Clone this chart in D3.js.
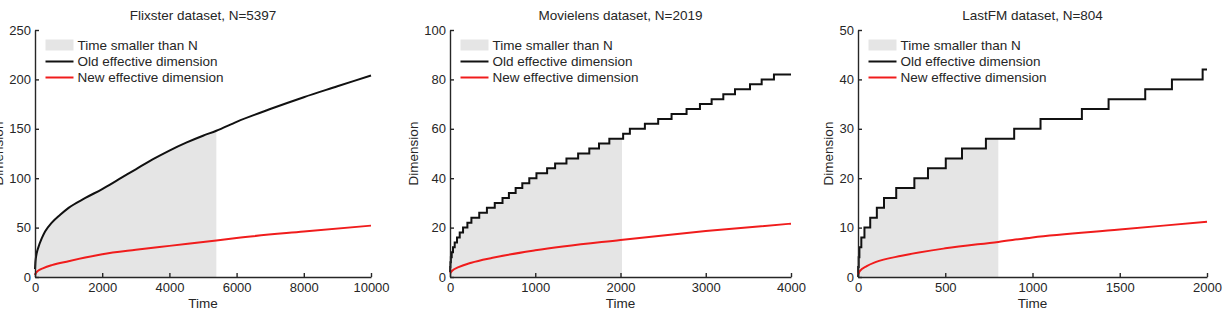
<!DOCTYPE html>
<html>
<head>
<meta charset="utf-8">
<script src="https://cdn.jsdelivr.net/npm/d3@7"></script>
<style>
  body { margin: 0; background: #fff; }
  svg text { font-family: "Liberation Sans", Arial, sans-serif; fill: #262626; }
  .axis path, .axis line { stroke: #262626; stroke-width: 1.4; }
</style>
</head>
<body>
<svg id="chart" width="1228" height="318"></svg>
<script>
// ---- data ----
var titles = ["Flixster dataset, N=5397", "Movielens dataset, N=2019", "LastFM dataset, N=804"];
var datasetN = [5397, 2019, 804];
var xMax = [10000, 4000, 2000];
var yMax = [250, 100, 50];
var xTicks = [
  [0, 2000, 4000, 6000, 8000, 10000],
  [0, 1000, 2000, 3000, 4000],
  [0, 500, 1000, 1500, 2000]
];
var yTicks = [
  [0, 50, 100, 150, 200, 250],
  [0, 20, 40, 60, 80, 100],
  [0, 10, 20, 30, 40, 50]
];
var legendLabels = ["Time smaller than N", "Old effective dimension", "New effective dimension"];

// Flixster (steps too fine to read, so points along the curve)
var flixsterOldTime = [0, 10, 25, 50, 100, 200, 300, 500, 750, 1000, 1500, 2000, 2500, 3000, 3500, 4000, 4500, 5000, 5397, 6000, 7000, 8000, 9000, 10000];
var flixsterOldDim  = [8, 14, 19, 24, 30, 39, 46, 55, 63, 70, 80, 89, 99, 109, 119, 128, 136, 143, 148, 157, 170, 182, 193, 204];
var flixsterNewTime = [0, 25, 100, 250, 500, 1000, 2000, 3000, 4000, 5397, 6000, 8000, 10000];
var flixsterNewDim  = [2, 4, 6.5, 9, 12, 16, 23, 27.5, 31.5, 37, 39.5, 46, 52];

// Movielens (old dimension is a staircase: time where each level starts)
var movielensOldTime = [0, 2, 5, 10, 20, 35, 55, 82, 114, 153, 204, 251, 343, 433, 525, 616, 691, 770, 848, 930, 1014, 1139, 1233, 1366, 1503, 1634, 1748, 1869, 2031, 2110, 2286, 2442, 2599, 2775, 2932, 3069, 3206, 3343, 3519, 3656, 3800, 4000];
var movielensOldDim  = [2, 4, 6, 8, 10, 12, 14, 16, 18, 20, 22, 24, 26, 28, 30, 32, 34, 36, 38, 40, 42, 44, 46, 48, 50, 52, 54, 56, 58, 60, 62, 64, 66, 68, 70, 72, 74, 76, 78, 80, 82, 82];
var movielensNewTime = [0, 25, 100, 250, 500, 1000, 2000, 3000, 4000];
var movielensNewDim  = [1.5, 2.5, 4, 5.8, 7.8, 10.8, 15, 18.6, 21.6];

// LastFM
var lastfmOldTime = [0, 1, 4, 8, 19, 37, 70, 108, 149, 219, 323, 401, 503, 596, 733, 895, 1046, 1283, 1436, 1646, 1799, 1975, 2000];
var lastfmOldDim  = [0, 2, 4, 6, 8, 10, 12, 14, 16, 18, 20, 22, 24, 26, 28, 30, 32, 34, 36, 38, 40, 42, 42];
var lastfmNewTime = [0, 10, 50, 100, 250, 500, 804, 1000, 1500, 2000];
var lastfmNewDim  = [0.5, 1.2, 2.2, 3, 4.3, 5.8, 7.1, 8, 9.6, 11.2];

// ---- layout ----
var plotLeft = [35, 450, 858],
    plotRight = [371, 791, 1207],
    plotTop = 30,
    plotBottom = 277;

var shadeColor = "#e5e5e5",
    oldColor = "#111111",
    newColor = "#f01c1c";

function zip(ts, vs) {
  return ts.map(function(t, i) { return {t: t, v: vs[i]}; });
}

var panels = [
  {old: zip(flixsterOldTime, flixsterOldDim), neu: zip(flixsterNewTime, flixsterNewDim), oldCurve: d3.curveMonotoneX},
  {old: zip(movielensOldTime, movielensOldDim), neu: zip(movielensNewTime, movielensNewDim), oldCurve: d3.curveStepAfter},
  {old: zip(lastfmOldTime, lastfmOldDim), neu: zip(lastfmNewTime, lastfmNewDim), oldCurve: d3.curveStepAfter}
];

var svg = d3.select("#chart");

panels.forEach(function(p, i) {
  var x = d3.scaleLinear().domain([0, xMax[i]]).range([plotLeft[i], plotRight[i]]);
  var y = d3.scaleLinear().domain([0, yMax[i]]).range([plotBottom, plotTop]);
  var g = svg.append("g").attr("class", "panel");

  //clip for shaded region (time < N)
  var clipId = "clipN" + i;
  svg.append("clipPath").attr("id", clipId)
    .append("rect")
      .attr("x", x(0))
      .attr("y", y(yMax[i]))
      .attr("width", x(datasetN[i]) - x(0))
      .attr("height", y(0) - y(yMax[i]));

  var area = d3.area()
    .curve(p.oldCurve)
    .x(function(d) { return x(d.t); })
    .y0(y(0))
    .y1(function(d) { return y(d.v); });

  g.append("path")
    .datum(p.old)
    .attr("d", area)
    .attr("clip-path", "url(#" + clipId + ")")
    .style("fill", shadeColor);

  //lines
  var oldLine = d3.line().curve(p.oldCurve)
    .x(function(d) { return x(d.t); })
    .y(function(d) { return y(d.v); });
  var newLine = d3.line().curve(d3.curveMonotoneX)
    .x(function(d) { return x(d.t); })
    .y(function(d) { return y(d.v); });

  g.append("path").datum(p.old).attr("d", oldLine)
    .style("fill", "none").style("stroke", oldColor).style("stroke-width", 2);
  g.append("path").datum(p.neu).attr("d", newLine)
    .style("fill", "none").style("stroke", newColor).style("stroke-width", 2);

  //axes, ticks pointing inward
  g.append("g").attr("class", "axis")
    .attr("transform", "translate(0," + plotBottom + ")")
    .call(d3.axisBottom(x).tickValues(xTicks[i]).tickFormat(d3.format("d"))
      .tickSizeInner(-4).tickSizeOuter(0).tickPadding(6))
    .selectAll("text").style("font-size", "13px");

  var yAxis = g.append("g").attr("class", "axis")
    .attr("transform", "translate(" + plotLeft[i] + ",0)");
  yAxis.call(d3.axisLeft(y).tickValues(yTicks[i]).tickFormat(d3.format("d"))
      .tickSizeInner(-4).tickSizeOuter(0).tickPadding(4))
    .selectAll("text").style("font-size", "13px");

  g.selectAll(".axis").attr("font-family", null);

  //titles and axis labels
  var cx = (plotLeft[i] + plotRight[i]) / 2;
  g.append("text")
    .attr("x", cx).attr("y", 20)
    .attr("text-anchor", "middle")
    .style("font-size", "13.5px")
    .text(titles[i]);

  g.append("text")
    .attr("x", cx).attr("y", 308)
    .attr("text-anchor", "middle")
    .style("font-size", "13.5px")
    .text("Time");

  // bbox is in the axis group's own coords
  var yb = yAxis.node().getBBox();
  g.append("text")
    .attr("transform", "translate(" + (plotLeft[i] + yb.x - 6.5) + "," + ((plotTop + plotBottom) / 2) + ") rotate(-90)")
    .attr("text-anchor", "middle")
    .style("font-size", "13.5px")
    .text("Dimension");

  //legend
  var lx = plotLeft[i] + 10.5,
      rowY = [45, 61.5, 77.5];
  var leg = g.append("g").attr("class", "legend");
  leg.append("rect")
    .attr("x", lx).attr("y", rowY[0] - 5.5)
    .attr("width", 28).attr("height", 11)
    .style("fill", shadeColor);
  leg.append("line")
    .attr("x1", lx).attr("x2", lx + 28)
    .attr("y1", rowY[1]).attr("y2", rowY[1])
    .style("stroke", oldColor).style("stroke-width", 2);
  leg.append("line")
    .attr("x1", lx).attr("x2", lx + 28)
    .attr("y1", rowY[2]).attr("y2", rowY[2])
    .style("stroke", newColor).style("stroke-width", 2);
  leg.selectAll("text.lab")
    .data(legendLabels)
    .enter().append("text")
      .attr("class", "lab")
      .attr("x", lx + 32)
      .attr("y", function(d, k) { return rowY[k]; })
      .attr("dy", "0.35em")
      .style("font-size", "13.5px")
      .text(function(d) { return d; });
});
</script>
</body>
</html>
